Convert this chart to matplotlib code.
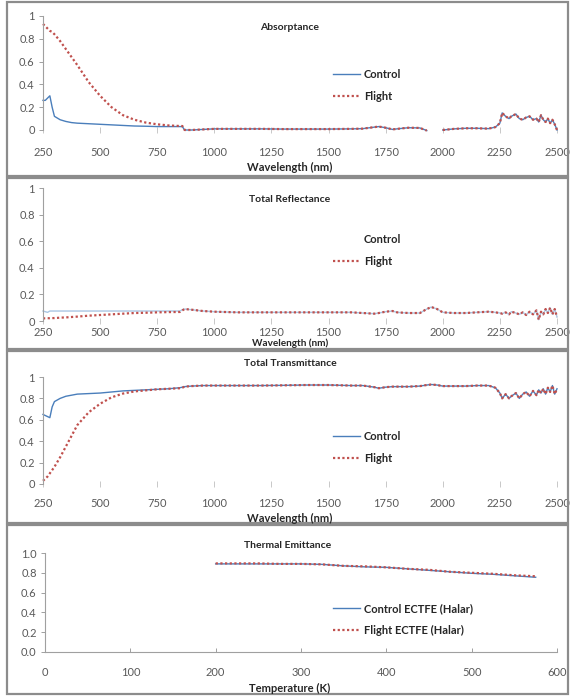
import numpy as np
import matplotlib
matplotlib.use("Agg")
import matplotlib.pyplot as plt
from matplotlib.lines import Line2D
from matplotlib.patches import Rectangle

plt.rcParams['font.family'] = ['Lato', 'DejaVu Sans']

# wavelength grid, split where flight and control start to overlap
wl_head = [250, 260, 270, 280, 290, 300, 325, 350, 375, 400, 450, 500, 550, 600,
           650, 700, 750, 800, 850, 860]
wl_tail = [870, 900, 950, 1000, 1100, 1200, 1300, 1400, 1500, 1600, 1650, 1700,
           1720, 1750, 1780, 1800, 1850, 1900, 1930, 1950, 1975, 2000, 2050, 2100,
           2150, 2200, 2230, 2250, 2260, 2275, 2290, 2300, 2320, 2335, 2350, 2365,
           2380, 2395, 2410, 2420, 2430, 2440, 2450, 2460, 2470, 2480, 2490, 2500]

# absorptance
abs_ctl_head = [0.26, 0.26, 0.28, 0.30, 0.20, 0.12, 0.09, 0.075, 0.065, 0.06, 0.055,
                0.05, 0.045, 0.04, 0.035, 0.033, 0.03, 0.03, 0.03, 0.03]
abs_flt_head = [0.93, 0.91, 0.89, 0.87, 0.86, 0.84, 0.78, 0.71, 0.64, 0.57, 0.42,
                0.30, 0.20, 0.13, 0.09, 0.065, 0.05, 0.04, 0.035, 0.035]
abs_tail = [0.0, 0.0, 0.005, 0.01, 0.01, 0.01, 0.008, 0.008, 0.008, 0.01, 0.012,
            0.025, 0.03, 0.02, 0.005, 0.01, 0.02, 0.018, -0.005, np.nan, np.nan,
            0.0, 0.01, 0.015, 0.015, 0.012, 0.025, 0.06, 0.15, 0.12, 0.10, 0.12,
            0.14, 0.10, 0.09, 0.11, 0.12, 0.09, 0.10, 0.07, 0.13, 0.09, 0.07, 0.10,
            0.06, 0.09, 0.05, 0.0]

# total reflectance
ref_ctl_head = [0.075, 0.07, 0.065, 0.075, 0.075, 0.075, 0.075, 0.075, 0.075, 0.075,
                0.075, 0.075, 0.075, 0.075, 0.075, 0.075, 0.075, 0.075, 0.075, 0.085]
ref_flt_head = [0.02, 0.02, 0.021, 0.021, 0.022, 0.022, 0.025, 0.027, 0.03, 0.033,
                0.04, 0.045, 0.05, 0.055, 0.06, 0.062, 0.065, 0.067, 0.068, 0.08]
ref_tail = [0.09, 0.085, 0.075, 0.07, 0.065, 0.065, 0.065, 0.065, 0.065, 0.065,
            0.06, 0.055, 0.06, 0.07, 0.075, 0.065, 0.06, 0.06, 0.09, 0.105, 0.09,
            0.065, 0.06, 0.06, 0.065, 0.07, 0.065, 0.06, 0.055, 0.065, 0.05, 0.07,
            0.06, 0.05, 0.065, 0.045, 0.07, 0.05, 0.08, 0.01, 0.07, 0.05, 0.09,
            0.06, 0.10, 0.05, 0.09, 0.03]

# total transmittance
tr_ctl_head = [0.65, 0.64, 0.63, 0.62, 0.72, 0.77, 0.80, 0.82, 0.83, 0.84, 0.845,
               0.85, 0.86, 0.87, 0.875, 0.88, 0.885, 0.89, 0.90, 0.905]
tr_flt_head = [0.03, 0.05, 0.07, 0.10, 0.13, 0.16, 0.25, 0.35, 0.45, 0.55, 0.67,
               0.75, 0.81, 0.845, 0.865, 0.875, 0.885, 0.89, 0.895, 0.90]
tr_tail = [0.91, 0.915, 0.92, 0.92, 0.92, 0.92, 0.922, 0.925, 0.925, 0.92, 0.92,
           0.905, 0.895, 0.905, 0.91, 0.91, 0.91, 0.915, 0.925, 0.93, 0.925, 0.915,
           0.915, 0.915, 0.92, 0.92, 0.90, 0.85, 0.80, 0.84, 0.80, 0.82, 0.85, 0.80,
           0.84, 0.86, 0.82, 0.87, 0.83, 0.88, 0.85, 0.89, 0.84, 0.90, 0.86, 0.92,
           0.84, 0.89]

# thermal emittance
temp_k = [200, 225, 250, 275, 300, 325, 350, 375, 400, 425, 450, 475, 500, 525, 550, 575]
emit_ctl = [0.89, 0.89, 0.89, 0.89, 0.89, 0.885, 0.87, 0.86, 0.855, 0.84, 0.825,
            0.81, 0.795, 0.785, 0.77, 0.755]
emit_flt = [0.895, 0.895, 0.895, 0.89, 0.89, 0.885, 0.87, 0.865, 0.855, 0.84, 0.83,
            0.81, 0.80, 0.79, 0.775, 0.765]

wl_ticks = [250, 500, 750, 1000, 1250, 1500, 1750, 2000, 2250, 2500]

W, H = 571, 696
BLUE = '#4a7ebb'
RED = '#c0504d'
GREY = '#8c8c8c'
TXT = '#595959'
DOTS = (0, (1, 1.1))

fig = plt.figure(figsize=(W / 100, H / 100), dpi=100)


def add_axes(l, t, r, b):
    return fig.add_axes([l / W, 1 - b / H, (r - l) / W, (b - t) / H])


def frame(t, b):
    fig.patches.append(Rectangle((7 / W, 1 - b / H), 561 / W, (b - t) / H,
                                 transform=fig.transFigure, fill=False,
                                 edgecolor=GREY, linewidth=1.6))


def style(ax, xpad, show_bottom=False):
    for s in ['top', 'right']:
        ax.spines[s].set_visible(False)
    ax.spines['left'].set_color('#a0a0a0')
    ax.spines['left'].set_linewidth(0.8)
    ax.spines['bottom'].set_visible(show_bottom)
    ax.spines['bottom'].set_color('#a0a0a0')
    ax.spines['bottom'].set_linewidth(0.8)
    ax.tick_params(axis='y', direction='out', length=3, width=0.7, color='#a0a0a0',
                   labelsize=8, labelcolor=TXT, pad=3)
    ax.tick_params(axis='x', direction='inout', length=4, width=0.7, color='#c8c8c8',
                   labelsize=8, labelcolor=TXT, pad=xpad)


def ftext(x, y, s, size=7.5):
    fig.text(x / W, 1 - y / H, s, ha='center', va='center', fontsize=size,
             fontweight='bold', color='#262626')


def legend(ax, x, y, labels, hide_first=False):
    h1 = Line2D([], [], color='none' if hide_first else BLUE, linewidth=1)
    h2 = Line2D([], [], color=RED, linewidth=1.6, linestyle=DOTS)
    leg = ax.legend([h1, h2], labels, loc='center left', bbox_to_anchor=(x / W, 1 - y / H),
                    bbox_transform=fig.transFigure, frameon=False, fontsize=8,
                    handlelength=2.4, handletextpad=0.4, labelspacing=1.0,
                    borderpad=0, borderaxespad=0)
    for t in leg.get_texts():
        t.set_fontweight('bold')
        t.set_color('#262626')


panels = [
    (16, 130, abs_ctl_head + abs_tail, abs_flt_head + abs_tail, 'Absorptance', 27, 167, 85.5, 10, 8),
    (188, 321, ref_ctl_head + ref_tail, ref_flt_head + ref_tail, 'Total Reflectance', 199, 343, 250.5, 2.5, 7.2),
    (377, 484, tr_ctl_head + tr_tail, tr_flt_head + tr_tail, 'Total Transmittance', 363, 518, 447.5, 8, 8),
]
frames = [(2, 176), (178, 349), (351, 523)]
wl = wl_head + wl_tail

for i, (t, b, ctl, flt, title, ty, ly, legy, xpad, lsize) in enumerate(panels):
    frame(*frames[i])
    ax = add_axes(43, t, 557, b)
    style(ax, xpad)
    ctl_color = '#a9c6e3' if i == 1 else BLUE
    ax.plot(wl, ctl, color=ctl_color, linewidth=1, clip_on=False)
    ax.plot(wl, flt, color=RED, linewidth=1.6, linestyle=DOTS, clip_on=False)
    ax.set_xlim(250, 2500)
    ax.set_ylim(0, 1)
    ax.set_xticks(wl_ticks)
    ax.set_yticks([0, 0.2, 0.4, 0.6, 0.8, 1])
    ax.set_yticklabels(['0', '0.2', '0.4', '0.6', '0.8', '1'])
    ftext(290, ty, title)
    ftext(290, ly, 'Wavelength (nm)', lsize)
    legend(ax, 333, legy, ['Control', 'Flight'], hide_first=(i == 1))

# thermal emittance panel
frame(525, 694)
ax = add_axes(45, 553, 557, 652)
style(ax, 11, show_bottom=True)
ax.plot(temp_k, emit_ctl, color=BLUE, linewidth=1)
ax.plot(temp_k, emit_flt, color=RED, linewidth=1.6, linestyle=DOTS)
ax.set_xlim(0, 600)
ax.set_ylim(0, 1)
ax.set_xticks([0, 100, 200, 300, 400, 500, 600])
ax.set_yticks([0, 0.2, 0.4, 0.6, 0.8, 1.0])
ax.set_yticklabels(['0.0', '0.2', '0.4', '0.6', '0.8', '1.0'])
ax.tick_params(axis='x', direction='in', length=3, color='#a0a0a0')
ftext(288, 545, 'Thermal Emittance')
ftext(290, 688, 'Temperature (K)', 8)
legend(ax, 333, 619.5, ['Control ECTFE (Halar)', 'Flight ECTFE (Halar)'])

fig.savefig('out.png', dpi=100)
